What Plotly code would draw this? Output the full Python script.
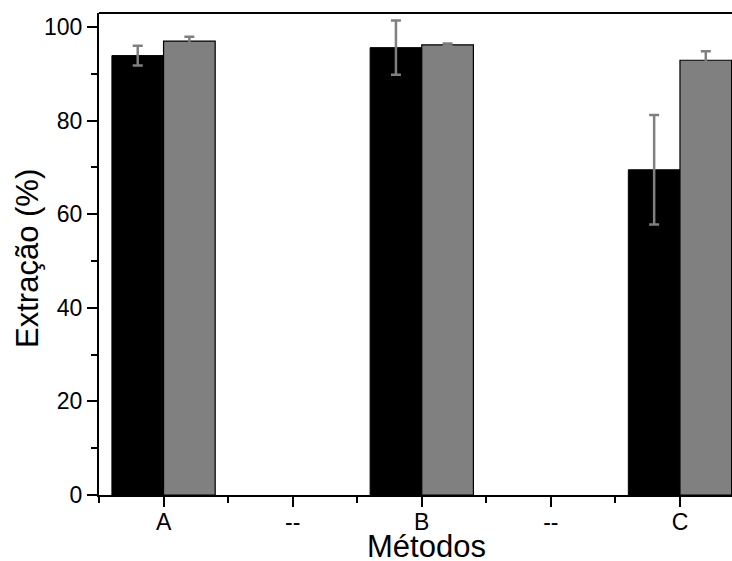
import plotly.graph_objects as go

# Extraction efficiency per method (two series, with standard deviations)
categories = ["A", "--", "B", "--", "C"]
series1_values = [93.9, None, 95.6, None, 69.5]
series1_errors = [2.1, None, 5.8, None, 11.7]
series2_values = [97.0, None, 96.2, None, 92.9]
series2_errors = [0.9, None, 0.3, None, 1.9]
y_ticks = [0, 20, 40, 60, 80, 100]

positions = list(range(1, len(categories) + 1))
font_family = "Liberation Sans, Arial, sans-serif"

fig = go.Figure()
fig.add_trace(go.Bar(
    x=positions, y=series1_values,
    marker=dict(color="#000000", line=dict(color="#000000", width=1)),
    error_y=dict(type="data", array=series1_errors, visible=True,
                 color="#808080", thickness=2.5, width=5),
    showlegend=False,
))
fig.add_trace(go.Bar(
    x=positions, y=series2_values,
    marker=dict(color="#808080", line=dict(color="#000000", width=1.2)),
    error_y=dict(type="data", array=series2_errors, visible=True,
                 color="#808080", thickness=2.5, width=5),
    showlegend=False,
))

fig.update_layout(
    width=732, height=561,
    margin=dict(l=99, r=0, t=13, b=66),
    paper_bgcolor="white", plot_bgcolor="white",
    barmode="group", bargap=0.2, bargroupgap=0,
    font=dict(family=font_family, size=23, color="black"),
    xaxis=dict(
        range=[0.5, 5.403],
        tickmode="array", tickvals=positions, ticktext=categories,
        ticks="outside", ticklen=10, tickwidth=1.5, tickcolor="black",
        minor=dict(tickvals=[p - 0.5 for p in positions],
                   ticks="outside", ticklen=6, tickwidth=1.5, tickcolor="black"),
        showline=True, linecolor="black", linewidth=2,
        showgrid=False, zeroline=False,
        tickfont=dict(size=23), ticklabelstandoff=-5,
    ),
    yaxis=dict(
        range=[0, 103],
        tickmode="array", tickvals=y_ticks,
        ticks="outside", ticklen=10, tickwidth=1.5, tickcolor="black",
        minor=dict(tickvals=[v + 10 for v in y_ticks[:-1]],
                   ticks="outside", ticklen=6, tickwidth=1.5, tickcolor="black"),
        showline=True, linecolor="black", linewidth=2,
        showgrid=False, zeroline=False,
        tickfont=dict(size=23),
    ),
    shapes=[dict(type="line", xref="paper", yref="paper",
                 x0=0, x1=1, y0=1, y1=1,
                 line=dict(color="black", width=2))],
    annotations=[
        dict(text="Métodos", xref="paper", yref="paper",
             x=0.518, y=-0.106, xanchor="center", yanchor="middle",
             showarrow=False, font=dict(size=31)),
        dict(text="Extração (%)", xref="paper", yref="paper",
             x=-0.112, y=0.49, xanchor="center", yanchor="middle",
             textangle=-90, showarrow=False, font=dict(size=31)),
    ],
)

fig.write_html("out.html")
